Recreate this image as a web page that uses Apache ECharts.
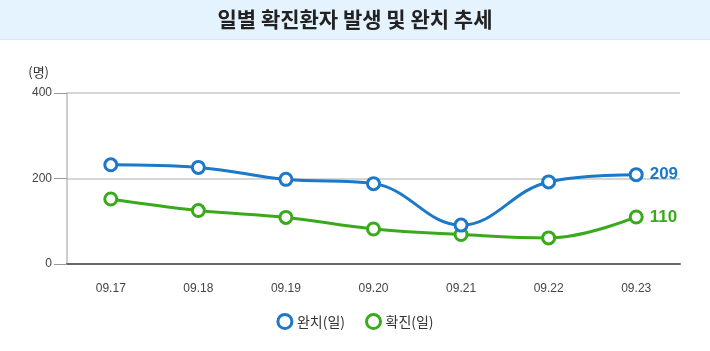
<!DOCTYPE html>
<html>
<head>
<meta charset="utf-8">
<script src="https://cdn.jsdelivr.net/npm/echarts@6/dist/echarts.min.js"></script>
<style>
  html, body { margin: 0; padding: 0; background: #fff; }
  #chart-container { width: 710px; height: 351px; }
</style>
</head>
<body>
<div id="chart-container"></div>
<script>
var dom = document.getElementById('chart-container');
var myChart = echarts.init(dom, null, { renderer: 'canvas' });

var dates = ['09.17', '09.18', '09.19', '09.20', '09.21', '09.22', '09.23'];
var recovered = [232, 226, 198, 188, 91, 192, 209];
var confirmed = [152, 125, 109, 82, 69, 61, 110];
var yTicks = [0, 200, 400];

var blue = '#1c78c8';
var green = '#3aaa1c';
var font = '"Noto Sans CJK KR", "Noto Sans", sans-serif';
var numFont = 'Arial, "Liberation Sans", sans-serif';

function endLabel(color) {
  return {
    show: true,
    position: 'right',
    distance: 6,
    color: color,
    fontWeight: 'bold',
    fontSize: 17,
    fontFamily: numFont,
    formatter: function (p) {
      return p.dataIndex === dates.length - 1 ? p.value : '';
    }
  };
}

var option = {
  animation: false,
  textStyle: { fontFamily: font },
  graphic: [
    {
      type: 'rect',
      left: 0, top: 0,
      shape: { width: 710, height: 39 },
      style: { fill: '#e4f3fd' },
      z: -1
    },
    {
      type: 'rect',
      left: 0, top: 39,
      shape: { width: 710, height: 1 },
      style: { fill: '#d3e9f8' },
      z: -1
    }
  ],
  title: {
    text: '일별 확진환자 발생 및 완치 추세',
    left: 'center',
    top: 4,
    textStyle: {
      fontSize: 21,
      fontWeight: 'bold',
      color: '#222',
      fontFamily: font
    }
  },
  legend: {
    bottom: 16,
    left: 'center',
    itemWidth: 14,
    itemHeight: 14,
    itemGap: 20,
    icon: 'circle',
    textStyle: { fontSize: 14, color: '#333', fontFamily: font },
    data: [
      { name: '완치(일)', itemStyle: { color: '#fff', borderColor: blue, borderWidth: 3 } },
      { name: '확진(일)', itemStyle: { color: '#fff', borderColor: green, borderWidth: 3 } }
    ]
  },
  grid: {
    left: 67,
    right: 30,
    top: 93,
    bottom: 87,
    containLabel: false
  },
  xAxis: {
    type: 'category',
    data: dates,
    boundaryGap: true,
    axisLine: { lineStyle: { color: '#666', width: 2 } },
    axisTick: { show: false },
    axisLabel: {
      color: '#444',
      fontSize: 12,
      margin: 19,
      fontFamily: numFont
    }
  },
  yAxis: {
    type: 'value',
    min: yTicks[0],
    max: yTicks[yTicks.length - 1],
    interval: 200,
    name: '(명)',
    nameLocation: 'end',
    nameGap: 14,
    nameTextStyle: { color: '#333', fontSize: 13, align: 'right', padding: [0, 18, 0, 0] },
    axisLine: { show: true, lineStyle: { color: '#bbb', width: 1.5 } },
    axisTick: { show: true, length: 13, lineStyle: { color: '#999' } },
    axisLabel: {
      color: '#444',
      fontSize: 12,
      margin: 15,
      fontFamily: numFont
    },
    splitLine: { lineStyle: { color: '#c8c8c8', width: 1.5 } }
  },
  series: [
    {
      name: '완치(일)',
      type: 'line',
      data: recovered,
      smooth: 0.4,
      symbol: 'circle',
      symbolSize: 12,
      showAllSymbol: true,
      lineStyle: { color: blue, width: 3 },
      itemStyle: { color: '#fff', borderColor: blue, borderWidth: 3 },
      label: endLabel(blue),
      z: 3
    },
    {
      name: '확진(일)',
      type: 'line',
      data: confirmed,
      smooth: 0.4,
      symbol: 'circle',
      symbolSize: 12,
      showAllSymbol: true,
      lineStyle: { color: green, width: 3 },
      itemStyle: { color: '#fff', borderColor: green, borderWidth: 3 },
      label: endLabel(green),
      z: 2
    }
  ]
};

myChart.setOption(option);
window.addEventListener('resize', myChart.resize);
</script>
</body>
</html>
